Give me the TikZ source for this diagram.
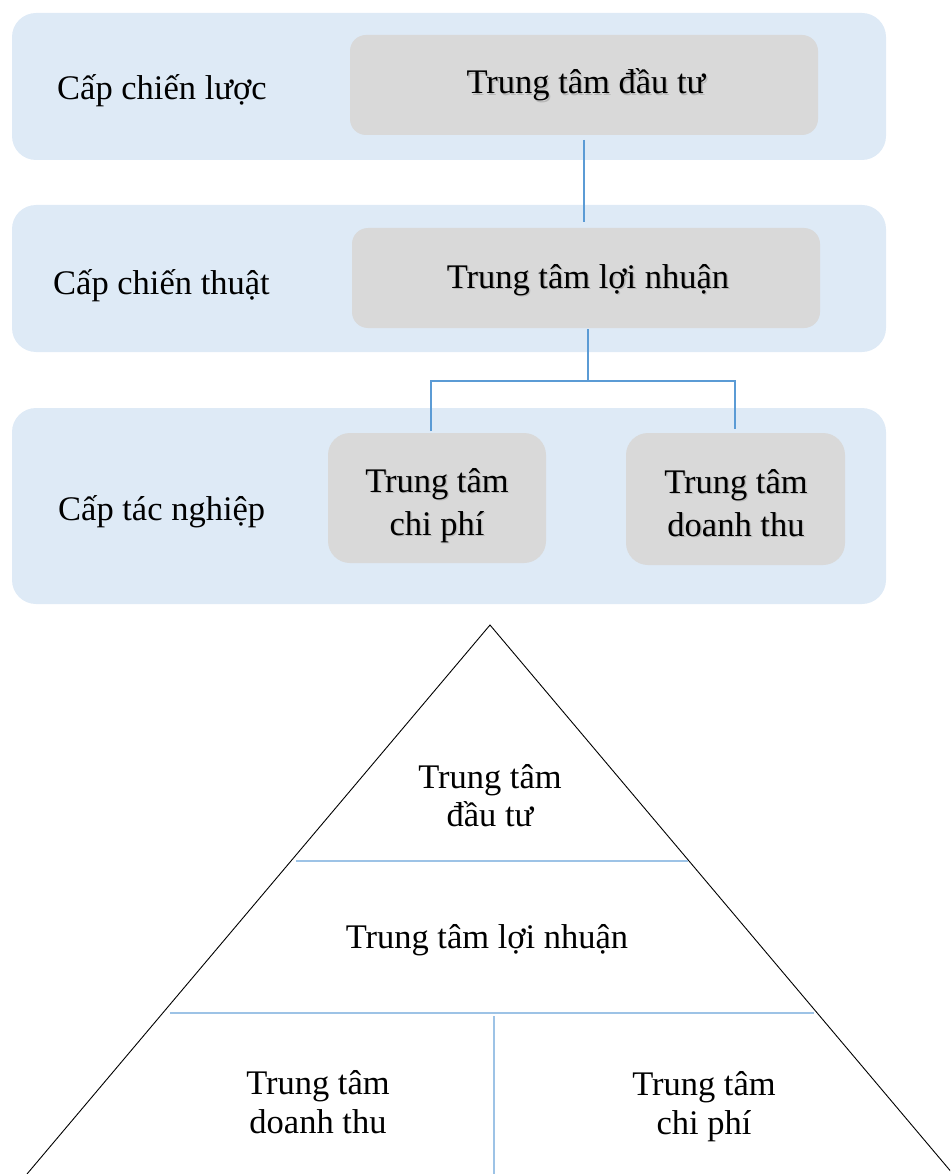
\documentclass[tikz,border=0pt]{standalone}
\usepackage{fontspec}
\setmainfont{Liberation Serif}
\definecolor{bandblue}{HTML}{DEEAF6}
\definecolor{boxgray}{HTML}{D9D9D9}
\definecolor{linkblue}{HTML}{5B9BD5}
\definecolor{tierblue}{HTML}{9DC3E6}
\tikzset{
  band/.style={fill=bandblue, draw=none, rounded corners=24pt, inner sep=0pt},
  unitbox/.style={fill=boxgray, draw=none, rounded corners=16pt, inner sep=0pt},
  unitboxtall/.style={fill=boxgray, draw=none, rounded corners=22pt, inner sep=0pt},
  txt/.style={inner sep=0pt, anchor=base, font=\fontsize{34.5}{41}\selectfont},
  lvl/.style={txt, anchor=base west},
  shadowtxt/.style={txt, text=black!28},
  link/.style={draw=linkblue, line width=1.3pt},
  tier/.style={draw=tierblue, line width=1.5pt},
  side/.style={draw=black, line width=0.9pt}
}
% text with a soft drop shadow, used inside the grey unit boxes
% #1 = x, #2 = y (baseline), #3 = node name, #4 = text
\newcommand{\shadowed}[4]{%
  \node[shadowtxt] at (#1+1.3,#2+1.3) {#4};
  \node[txt] (#3) at (#1,#2) {#4};
}
\begin{document}
\begin{tikzpicture}[x=1pt, y=-1pt]
\useasboundingbox (0,0) rectangle (950,1174);

% ---- level bands ----
\node[band, minimum width=874pt, minimum height=147pt] (band1) at (449,86.5) {};
\node[band, minimum width=874pt, minimum height=147pt] (band2) at (449,278.5) {};
\node[band, minimum width=874pt, minimum height=196pt] (band3) at (449,506) {};

\node[lvl] (lv1) at (57,100) {Cấp chiến lược};
\node[lvl] (lv2) at (53,294) {Cấp chiến thuật};
\node[lvl] (lv3) at (58,520) {Cấp tác nghiệp};

% ---- responsibility centres ----
\node[unitbox, minimum width=468pt, minimum height=100pt] (inv) at (584,85) {};
\node[unitbox, minimum width=468pt, minimum height=100pt] (prof) at (586,278) {};
\node[unitboxtall, minimum width=218pt, minimum height=130pt] (cost) at (437,498) {};
\node[unitboxtall, minimum width=219pt, minimum height=132pt] (rev) at (735.5,499) {};

\shadowed{586}{94}{invT}{Trung tâm đầu tư}
\shadowed{588}{288}{profT}{Trung tâm lợi nhuận}
\shadowed{437}{492}{costA}{Trung tâm}
\shadowed{437}{535}{costB}{chi phí}
\shadowed{736}{493}{revA}{Trung tâm}
\shadowed{736}{536}{revB}{doanh thu}

% ---- connectors ----
\coordinate (j1top) at (584,140);
\coordinate (j1bot) at (584,222);
\draw[link] (j1top) -- (j1bot);

\coordinate (j2top) at (588,329);
\coordinate (j2mid) at (588,381);
\coordinate (jl) at (431,381);
\coordinate (jr) at (735,381);
\coordinate (jlb) at (431,431);
\coordinate (jrb) at (735,429);
\draw[link] (j2top) -- (j2mid);
\draw[link] (jlb) -- (jl) -- (jr) -- (jrb);

% ---- pyramid ----
\begin{scope}
\clip (0,0) rectangle (950,1174);
\coordinate (apex) at (490,625);
\coordinate (baseL) at (27,1174);
\coordinate (baseR) at (953,1174);
\draw[side] (baseL) -- (apex) -- (baseR);
\end{scope}

\coordinate (t1l) at (296,861);
\coordinate (t1r) at (688,861);
\coordinate (t2l) at (170,1013);
\coordinate (t2r) at (814,1013);
\coordinate (splitT) at (494,1016);
\coordinate (splitB) at (494,1174);
\draw[tier] (t1l) -- (t1r);
\draw[tier] (t2l) -- (t2r);
\draw[tier] (splitT) -- (splitB);

\node[txt] (pInvA) at (490,788) {Trung tâm};
\node[txt] (pInvB) at (490,826) {đầu tư};
\node[txt] (pProf) at (487,948) {Trung tâm lợi nhuận};
\node[txt] (pRevA) at (318,1094) {Trung tâm};
\node[txt] (pRevB) at (318,1133) {doanh thu};
\node[txt] (pCostA) at (704,1095) {Trung tâm};
\node[txt] (pCostB) at (704,1134) {chi phí};
\end{tikzpicture}
\end{document}
